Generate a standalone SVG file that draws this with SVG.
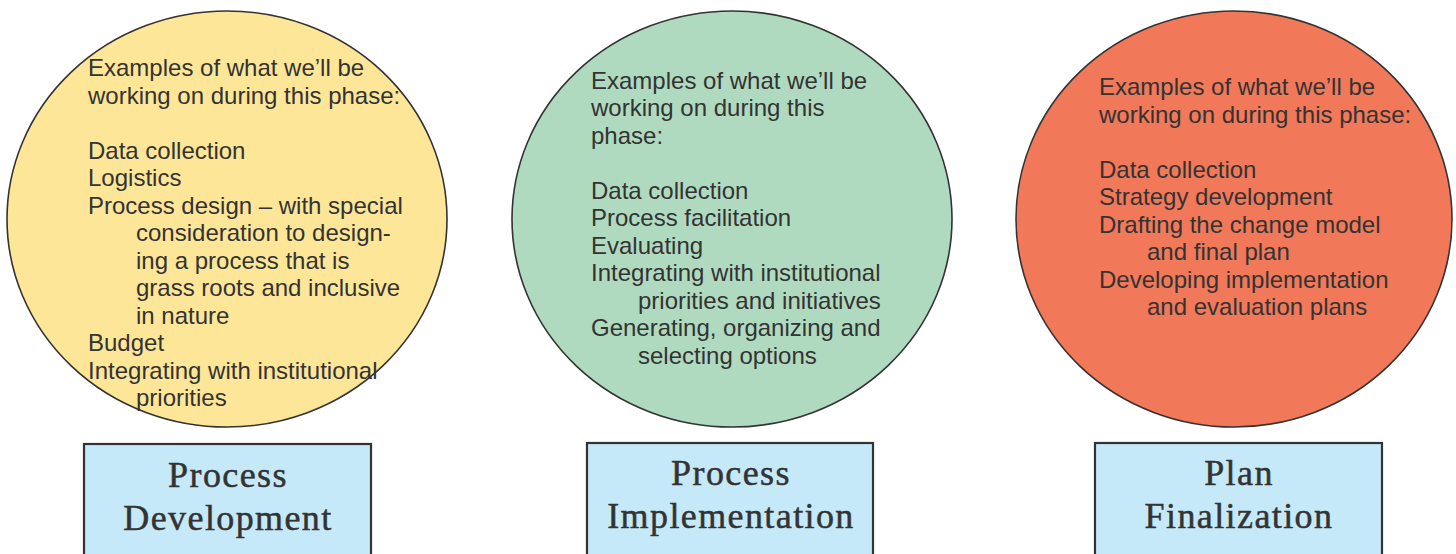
<svg xmlns="http://www.w3.org/2000/svg" width="1456" height="554" viewBox="0 0 1456 554">
<style>
.bg{fill:#ffffff}
.ell{stroke:#333333;stroke-width:1.6}
.y{fill:#FEE698}
.g{fill:#B0DABF}
.o{fill:#F2785A}
.box{fill:#C6E9F9;stroke:#333333;stroke-width:2.2}
.t{font-family:"Liberation Sans",Arial,sans-serif;font-size:24px;fill:#333333}
.h{font-family:"Liberation Serif","Times New Roman",serif;font-size:36px;fill:#333333;stroke:#333333;stroke-width:0.5;text-anchor:middle;letter-spacing:1.4px}
</style>
<rect class="bg" x="0" y="0" width="1456" height="554"/>
<g id="connectors"></g>
<g id="circle-development">
<ellipse class="ell y" cx="227" cy="219" rx="220" ry="208"/>
<text class="t" x="88" y="76">Examples of what we’ll be</text>
<text class="t" x="88" y="103.5">working on during this phase:</text>
<text class="t" x="88" y="158.5">Data collection</text>
<text class="t" x="88" y="186">Logistics</text>
<text class="t" x="88" y="213.5">Process design – with special</text>
<text class="t" x="136" y="241">consideration to design-</text>
<text class="t" x="136" y="268.5">ing a process that is</text>
<text class="t" x="136" y="296">grass roots and inclusive</text>
<text class="t" x="136" y="323.5">in nature</text>
<text class="t" x="88" y="351">Budget</text>
<text class="t" x="88" y="378.5">Integrating with institutional</text>
<text class="t" x="136" y="406">priorities</text>
</g>
<g id="circle-implementation">
<ellipse class="ell g" cx="732" cy="219" rx="220" ry="208"/>
<text class="t" x="591" y="88.5">Examples of what we’ll be</text>
<text class="t" x="591" y="116">working on during this</text>
<text class="t" x="591" y="143.5">phase:</text>
<text class="t" x="591" y="198.5">Data collection</text>
<text class="t" x="591" y="226">Process facilitation</text>
<text class="t" x="591" y="253.5">Evaluating</text>
<text class="t" x="591" y="281">Integrating with institutional</text>
<text class="t" x="638" y="308.5">priorities and initiatives</text>
<text class="t" x="591" y="336">Generating, organizing and</text>
<text class="t" x="638" y="363.5">selecting options</text>
</g>
<g id="circle-finalization">
<ellipse class="ell o" cx="1234" cy="219" rx="218" ry="208"/>
<text class="t" x="1099" y="95">Examples of what we’ll be</text>
<text class="t" x="1099" y="122.5">working on during this phase:</text>
<text class="t" x="1099" y="177.5">Data collection</text>
<text class="t" x="1099" y="205">Strategy development</text>
<text class="t" x="1099" y="232.5">Drafting the change model</text>
<text class="t" x="1147" y="260">and final plan</text>
<text class="t" x="1099" y="287.5">Developing implementation</text>
<text class="t" x="1147" y="315">and evaluation plans</text>
</g>
<g id="box-development">
<rect class="box" x="84" y="444" width="287" height="116"/>
<text class="h" x="228" y="487">Process</text>
<text class="h" x="228" y="530">Development</text>
</g>
<g id="box-implementation">
<rect class="box" x="587" y="443" width="286" height="117"/>
<text class="h" x="731" y="485">Process</text>
<text class="h" x="731" y="528">Implementation</text>
</g>
<g id="box-finalization">
<rect class="box" x="1095" y="443" width="287" height="117"/>
<text class="h" x="1239" y="485">Plan</text>
<text class="h" x="1239" y="528">Finalization</text>
</g>
</svg>
